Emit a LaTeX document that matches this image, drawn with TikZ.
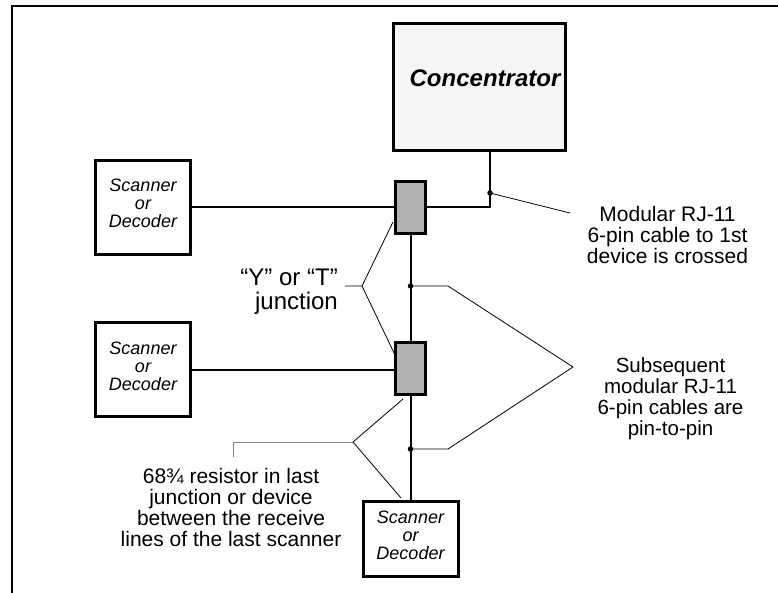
\documentclass[tikz,border=0pt]{standalone}
\usepackage{fontspec}
\setmainfont{Liberation Sans}
\begin{document}
\begin{tikzpicture}[x=1pt,y=-1pt,
  devbox/.style={draw, line width=3pt, minimum width=95pt, minimum height=94pt, inner sep=0pt, align=center, font=\fontsize{18}{18}\selectfont\itshape, text depth=7pt},
  jbox/.style={draw, line width=3pt, fill=black!30, minimum width=30.5pt, minimum height=52.5pt, inner sep=0pt},
  wire/.style={line width=2pt},
  lead/.style={line width=0.8pt},
  dot/.style={circle, fill=black, inner sep=0pt, minimum size=5.5pt},
  lbl/.style={inner sep=0pt, align=center, font=\fontsize{21}{21}\selectfont}
]
\useasboundingbox (0,0) rectangle (778,592);
\draw[line width=1.3pt] (12,600) -- (12,6) -- (790,6);

% concentrator
\node[draw, line width=3pt, fill=black!4, minimum width=172pt, minimum height=127pt, inner sep=0pt] (conc) at (479.5,87) {};
\node[font=\fontsize{24}{24}\selectfont\bfseries\itshape, anchor=base, inner sep=0pt] (conctext) at (485,86) {Concentrator};

% devices
\node[devbox] (box1) at (143,207) {Scanner\\or\\Decoder};
\node[devbox] (box2) at (143,369.5) {Scanner\\or\\Decoder};
\node[devbox, minimum height=75pt] (box3) at (410.5,539) {Scanner\\or\\Decoder};

% junctions
\node[jbox] (j1) at (410.5,207.5) {};
\node[jbox] (j2) at (410.5,368.5) {};

\coordinate (cdot) at (490,193);

% wires
\draw[wire] (box1.east) -- (box1.east -| j1.west);
\draw[wire] (j1.east |- box1.east) -| (cdot) -- (cdot |- conc.south);
\draw[wire] (box2.east) -- (box2.east -| j2.west);
\draw[wire] (j1.south) -- (j2.north);
\draw[wire] (j2.south) -- (j2.south |- box3.north);

% dots
\node[dot] (d1) at (cdot) {};
\node[dot] (d2) at (410.5,286) {};
\node[dot] (d3) at (410.5,449) {};

% modular label
\coordinate (mlead) at (570,213);
\draw[lead] (d1.center) -- (mlead);
\node[lbl, anchor=north] (modtext) at (667.5,206.5) {Modular RJ-11\\6-pin cable to 1st\\device is crossed};

% subsequent label
\coordinate (sa) at (448,286);
\coordinate (stip) at (573,367);
\coordinate (sb) at (448,449);
\draw[lead] (d2.center) -- (sa) -- (stip) -- (sb) -- (d3.center);
\node[lbl, anchor=north, font=\fontsize{20.5}{21}\selectfont] (subtext) at (670.5,357) {Subsequent\\modular RJ-11\\6-pin cables are\\pin-to-pin};

% Y or T label
\node[lbl, anchor=north east, align=right, font=\fontsize{24}{24}\selectfont] (ytext) at (338,268.5) {“Y” or “T”\\junction};
\coordinate (ya) at (345,286);
\coordinate (yb) at (362,286);
\coordinate (yup) at (393,222);
\coordinate (ydn) at (395,355);
\draw[lead] (ya) -- (yb) -- (yup);
\draw[lead] (yb) -- (ydn);

% resistor label
\node[lbl, anchor=north] (rtext) at (231,467.7) {68¾ resistor in last\\junction or device\\between the receive\\lines of the last scanner};
\coordinate (ra) at (233,457);
\coordinate (rb) at (233,442);
\coordinate (rc) at (353,442);
\coordinate (rup) at (403,399);
\coordinate (rdn) at (401,498);
\draw[lead, gray, line width=1pt] (ra) -- (rb) -- (rc);
\draw[lead] (rc) -- (rup);
\draw[lead] (rc) -- (rdn);
\end{tikzpicture}
\end{document}
